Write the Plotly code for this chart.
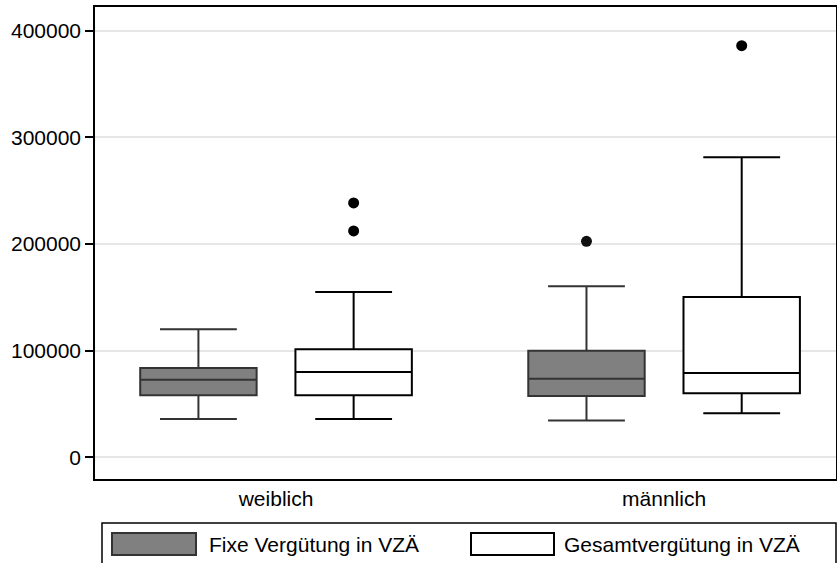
import plotly.graph_objects as go

categories = ["weiblich", "männlich"]
series_names = ["Fixe Vergütung in VZÄ", "Gesamtvergütung in VZÄ"]

fixe_lower = [36000, 34500]
fixe_q1 = [58200, 57600]
fixe_median = [72800, 73700]
fixe_q3 = [83800, 100000]
fixe_upper = [120000, 160400]
fixe_outliers = [[], [202600]]

ges_lower = [36000, 41300]
ges_q1 = [58200, 60000]
ges_median = [80000, 79100]
ges_q3 = [101300, 150400]
ges_upper = [155000, 281400]
ges_outliers = [[212300, 238600], [386100]]

y_ticks = [0, 100000, 200000, 300000, 400000]

FONT = "Arial, Liberation Sans, sans-serif"
FS = 21
W, H = 837, 563
ML, MR, MT, MB = 95, 1, 7, 84
PW, PH = W - ML - MR, H - MT - MB


def px(p):
    return (p - ML) / PW


def py(p):
    return (H - MB - p) / PH


def flatten(outliers):
    xs, ys = [], []
    for cat, vals in zip(categories, outliers):
        for v in vals:
            xs.append(cat)
            ys.append(v)
    return xs, ys


fig = go.Figure()
fig.add_trace(go.Box(
    name=series_names[0], x=categories,
    q1=fixe_q1, median=fixe_median, q3=fixe_q3,
    lowerfence=fixe_lower, upperfence=fixe_upper,
    boxpoints=False, fillcolor="#808080",
    line=dict(color="#333333", width=2),
    whiskerwidth=0.66, showlegend=False,
))
fig.add_trace(go.Box(
    name=series_names[1], x=categories,
    q1=ges_q1, median=ges_median, q3=ges_q3,
    lowerfence=ges_lower, upperfence=ges_upper,
    boxpoints=False, fillcolor="#ffffff",
    line=dict(color="#000000", width=2),
    whiskerwidth=0.66, showlegend=False,
))
fx, fy = flatten(fixe_outliers)
gx, gy = flatten(ges_outliers)
fig.add_trace(go.Scatter(
    name=series_names[0], x=fx, y=fy, mode="markers", orientation="v",
    marker=dict(color="#111111", size=11), showlegend=False,
))
fig.add_trace(go.Scatter(
    name=series_names[1], x=gx, y=gy, mode="markers", orientation="v",
    marker=dict(color="#000000", size=11), showlegend=False,
))

# custom legend
shapes = [
    dict(type="rect", xref="paper", yref="paper", x0=px(102), x1=px(836), y0=py(523), y1=py(570),
         line=dict(color="#000000", width=1.5), fillcolor="rgba(0,0,0,0)"),
    dict(type="rect", xref="paper", yref="paper", x0=px(112), x1=px(196), y0=py(533), y1=py(555),
         line=dict(color="#333333", width=2), fillcolor="#808080"),
    dict(type="rect", xref="paper", yref="paper", x0=px(471), x1=px(554), y0=py(533), y1=py(555),
         line=dict(color="#000000", width=2), fillcolor="#ffffff"),
]
annotations = [
    dict(xref="paper", yref="paper", x=px(207), y=py(544), text=series_names[0], showarrow=False,
         xanchor="left", yanchor="middle", font=dict(family=FONT, size=FS, color="#000000")),
    dict(xref="paper", yref="paper", x=px(562), y=py(544), text=series_names[1], showarrow=False,
         xanchor="left", yanchor="middle", font=dict(family=FONT, size=FS, color="#000000")),
]

fig.update_layout(
    width=W, height=H,
    margin=dict(l=ML, r=MR, t=MT, b=MB, autoexpand=False),
    paper_bgcolor="#ffffff", plot_bgcolor="#ffffff",
    boxmode="group", boxgap=0.2, boxgroupgap=0.25,
    scattermode="group", scattergap=0.2,
    font=dict(family=FONT, size=FS, color="#000000"),
    shapes=shapes, annotations=annotations,
    showlegend=False,
)
fig.update_xaxes(
    type="category", range=[-0.4665, 1.443], automargin=False,
    showgrid=False, showline=True, linecolor="#000000", linewidth=1.5, mirror=True,
    ticks="", tickfont=dict(family=FONT, size=FS, color="#000000"), zeroline=False,
)
fig.update_yaxes(
    range=[-20360, 422400], tickvals=y_ticks, ticktext=[str(v) for v in y_ticks],
    automargin=False,
    showgrid=True, gridcolor="#e6e6e6", gridwidth=1.5,
    showline=True, linecolor="#000000", linewidth=1.5, mirror=True,
    ticks="outside", ticklen=8, tickcolor="#000000", tickwidth=1.5,
    tickfont=dict(family=FONT, size=FS, color="#000000"), zeroline=False,
)

fig.write_html(
    "out.html",
    config={"displayModeBar": False},
    post_script="document.body.style.margin='0';document.body.style.padding='0';",
)
